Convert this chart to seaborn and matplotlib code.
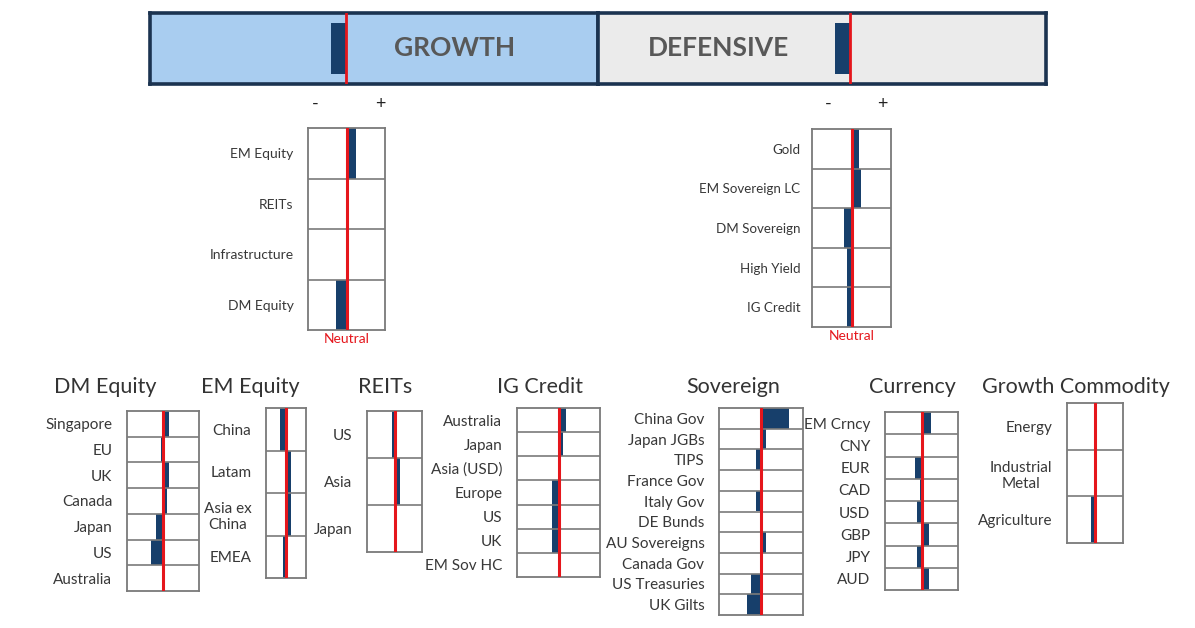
"""
Asset allocation tilt dashboard: growth / defensive banner plus
per-sleeve over/underweight panels.
"""
import matplotlib
matplotlib.use("Agg")
import matplotlib.pyplot as plt
import seaborn as sns

# ---------------------------------------------------------------------------
# Data (tilts relative to neutral; 1.0 = half the width of a panel box)
# ---------------------------------------------------------------------------
GROWTH_TILT = [-0.067]
DEFENSIVE_TILT = [-0.067]

GROWTH_LABELS = ["EM Equity", "REITs", "Infrastructure", "DM Equity"]
GROWTH_VALUES = [0.24, 0.0, 0.0, -0.26]

DEFENSIVE_LABELS = ["Gold", "EM Sovereign LC", "DM Sovereign", "High Yield", "IG Credit"]
DEFENSIVE_VALUES = [0.20, 0.25, -0.18, -0.11, -0.11]

DM_EQ_LABELS = ["Singapore", "EU", "UK", "Canada", "Japan", "US", "Australia"]
DM_EQ_VALUES = [0.17, -0.05, 0.17, 0.11, -0.19, -0.34, 0.0]

EM_EQ_LABELS = ["China", "Latam", "Asia ex\nChina", "EMEA"]
EM_EQ_VALUES = [-0.32, 0.25, 0.25, -0.17]

REITS_LABELS = ["US", "Asia", "Japan"]
REITS_VALUES = [-0.085, 0.19, 0.0]

IG_LABELS = ["Australia", "Japan", "Asia (USD)", "Europe", "US", "UK", "EM Sov HC"]
IG_VALUES = [0.19, 0.12, 0.05, -0.15, -0.15, -0.15, 0.0]

SOV_LABELS = ["China Gov", "Japan JGBs", "TIPS", "France Gov", "Italy Gov",
              "DE Bunds", "AU Sovereigns", "Canada Gov", "US Treasuries", "UK Gilts"]
SOV_VALUES = [0.67, 0.13, -0.12, 0.0, -0.12, 0.0, 0.13, -0.03, -0.25, -0.33]

FX_LABELS = ["EM Crncy", "CNY", "EUR", "CAD", "USD", "GBP", "JPY", "AUD"]
FX_VALUES = [0.27, 0.0, -0.17, -0.04, -0.13, 0.21, -0.13, 0.21]

COMMOD_LABELS = ["Energy", "Industrial\nMetal", "Agriculture"]
COMMOD_VALUES = [0.0, 0.0, -0.14]

# ---------------------------------------------------------------------------
# Style
# ---------------------------------------------------------------------------
sns.set_theme(style="white")
plt.rcParams["font.family"] = ["Lato", "DejaVu Sans"]

W, H = 1195, 628
NAVY = "#173f6b"
RED = "#e5161c"
BOX = "#7a7a7a"
TEXT = "#383838"

fig = plt.figure(figsize=(W / 100, H / 100), dpi=100)


def px_axes(x0, y0, x1, y1):
    """Add an axes given pixel corners (top-left origin)."""
    return fig.add_axes([x0 / W, 1 - y1 / H, (x1 - x0) / W, (y1 - y0) / H])


def tilt_panel(rect, labels, values, fontsize=11, pad=10.5, neutral=False):
    ax = px_axes(*rect)
    n = len(labels)
    sns.barplot(x=values, y=labels, orient="h", color=NAVY, saturation=1,
                width=1.0, linewidth=0, errorbar=None, ax=ax)
    ax.set_xlim(-1, 1)
    ax.set_ylim(n - 0.5, -0.5)
    ax.set_xticks([])
    ax.set_yticks(range(n), labels, fontsize=fontsize, color=TEXT)
    for t in ax.get_yticklabels():
        t.set_multialignment("center")
    ax.tick_params(axis="y", length=0, pad=pad)
    ax.set_xlabel("")
    ax.set_ylabel("")
    for i in range(1, n):
        ax.axhline(i - 0.5, color=BOX, lw=1.2, zorder=1)
    for s in ax.spines.values():
        s.set_color(BOX)
        s.set_linewidth(1.3)
    ax.axvline(0, color=RED, lw=2.2, zorder=4)
    if neutral:
        ax.text(0, -0.015, "Neutral", transform=ax.get_xaxis_transform(),
                ha="center", va="top", color=RED, fontsize=10)
    return ax


def banner(rect, values, xlim, face, title, title_x):
    ax = px_axes(*rect)
    ax.set_facecolor(face)
    sns.barplot(x=values, y=[title], orient="h", color=NAVY, saturation=1,
                width=0.73, linewidth=0, errorbar=None, ax=ax)
    ax.set_xlim(*xlim)
    ax.set_ylim(0.5, -0.5)
    ax.set_xticks([])
    ax.set_yticks([])
    ax.set_xlabel("")
    ax.set_ylabel("")
    ax.axvline(0, color=RED, lw=2, zorder=4)
    for s in ax.spines.values():
        s.set_color("#1b3350")
        s.set_linewidth(2.6)
    ax.text(title_x, 0.5, title, transform=ax.transAxes, ha="center",
            va="center", fontsize=19, fontweight="bold", color="#585858")
    return ax


# ---------------------------------------------------------------------------
# Banner
# ---------------------------------------------------------------------------
banner((150, 13, 598, 84), GROWTH_TILT, (-0.875, 1.125), "#a9cdf0", "GROWTH", 0.68)
banner((598, 13, 1046, 84), DEFENSIVE_TILT, (-1.125, 0.875), "#ebebeb", "DEFENSIVE", 0.27)

for x, s in [(315, "-"), (380, "+"), (828, "-"), (882, "+")]:
    fig.text(x / W, 1 - 104 / H, s, ha="center", va="center", fontsize=13, color="#222222")

# ---------------------------------------------------------------------------
# Growth / defensive breakdown
# ---------------------------------------------------------------------------
tilt_panel((308, 128, 385, 330), GROWTH_LABELS, GROWTH_VALUES, fontsize=10, neutral=True)
tilt_panel((812, 129, 891, 327), DEFENSIVE_LABELS, DEFENSIVE_VALUES,
           fontsize=9.6, pad=8.5, neutral=True)

# ---------------------------------------------------------------------------
# Sleeve panels
# ---------------------------------------------------------------------------
tilt_panel((127, 411, 199, 591), DM_EQ_LABELS, DM_EQ_VALUES)
tilt_panel((266, 408, 306, 578), EM_EQ_LABELS, EM_EQ_VALUES)
tilt_panel((367, 411, 422, 552), REITS_LABELS, REITS_VALUES)
tilt_panel((517, 408, 600, 577), IG_LABELS, IG_VALUES)
tilt_panel((719, 408, 803, 615), SOV_LABELS, SOV_VALUES)
tilt_panel((885, 412, 958, 590), FX_LABELS, FX_VALUES)
tilt_panel((1067, 403, 1123, 543), COMMOD_LABELS, COMMOD_VALUES)

titles = [(105, "DM Equity"), (250, "EM Equity"), (385, "REITs"), (540, "IG Credit"),
          (733, "Sovereign"), (912, "Currency"), (1076, "Growth Commodity")]
for x, s in titles:
    fig.text(x / W, 1 - 387 / H, s, ha="center", va="center", fontsize=15.5, color="#333333")

fig.savefig("out.png", dpi=100)
